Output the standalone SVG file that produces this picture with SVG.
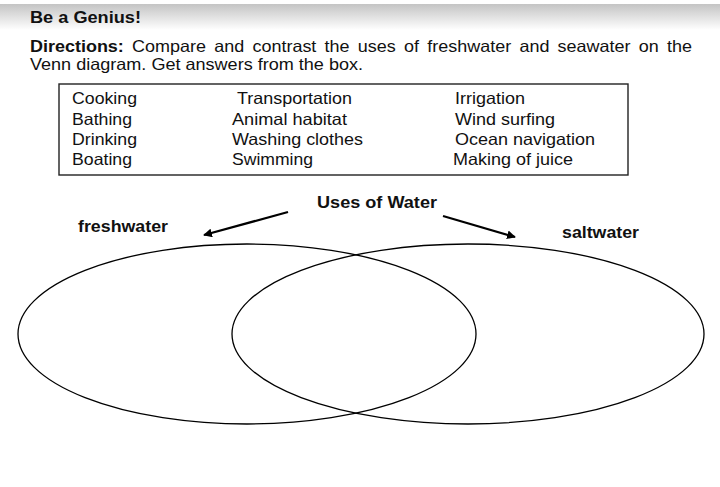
<svg xmlns="http://www.w3.org/2000/svg" width="720" height="487" viewBox="0 0 720 487">
<defs>
<linearGradient id="band" x1="0" y1="0" x2="0" y2="1">
<stop offset="0" stop-color="#c4c4c4"/>
<stop offset="1" stop-color="#ffffff"/>
</linearGradient>
<marker id="ah" viewBox="0 0 10 10" refX="9" refY="5" markerWidth="4" markerHeight="4" orient="auto">
<path d="M0,0 L10,5 L0,10 z" fill="#000"/>
</marker>
<style>
text{font-family:"Liberation Sans",Arial,sans-serif;fill:#111}
.b{font-weight:bold}
.t{font-size:16.5px}
.c{fill:none;stroke:#000;stroke-width:1.3}
</style>
</defs>
<rect width="720" height="487" fill="#fff"/>
<rect x="0" y="4" width="720" height="26" fill="url(#band)"/>
<text x="30" y="23" class="b" font-size="16" textLength="111" lengthAdjust="spacingAndGlyphs">Be a Genius!</text>
<text x="30" y="52" class="t" word-spacing="3" textLength="662" lengthAdjust="spacingAndGlyphs"><tspan class="b">Directions:</tspan> Compare and contrast the uses of freshwater and seawater on the</text>
<text x="30" y="70" class="t" textLength="333" lengthAdjust="spacingAndGlyphs">Venn diagram. Get answers from the box.</text>
<g id="box">
<rect x="59" y="84" width="569" height="91" fill="none" stroke="#222" stroke-width="1.4"/>
<text class="t" x="72" y="104" textLength="65" lengthAdjust="spacingAndGlyphs">Cooking</text>
<text class="t" x="72" y="125" textLength="60" lengthAdjust="spacingAndGlyphs">Bathing</text>
<text class="t" x="72" y="145" textLength="65" lengthAdjust="spacingAndGlyphs">Drinking</text>
<text class="t" x="72" y="165" textLength="60" lengthAdjust="spacingAndGlyphs">Boating</text>
<text class="t" x="237" y="104" textLength="115" lengthAdjust="spacingAndGlyphs">Transportation</text>
<text class="t" x="232" y="125" textLength="115" lengthAdjust="spacingAndGlyphs">Animal habitat</text>
<text class="t" x="232" y="145" textLength="131" lengthAdjust="spacingAndGlyphs">Washing clothes</text>
<text class="t" x="232" y="165" textLength="81" lengthAdjust="spacingAndGlyphs">Swimming</text>
<text class="t" x="455" y="104" textLength="70" lengthAdjust="spacingAndGlyphs">Irrigation</text>
<text class="t" x="455" y="125" textLength="100" lengthAdjust="spacingAndGlyphs">Wind surfing</text>
<text class="t" x="455" y="145" textLength="140" lengthAdjust="spacingAndGlyphs">Ocean navigation</text>
<text class="t" x="453" y="165" textLength="120" lengthAdjust="spacingAndGlyphs">Making of juice</text>
</g>
<g id="title"><text x="317" y="208" class="b" font-size="16.5" textLength="120" lengthAdjust="spacingAndGlyphs">Uses of Water</text></g>
<g id="freshwater">
<text x="78" y="232" class="b" font-size="16.5" textLength="90" lengthAdjust="spacingAndGlyphs">freshwater</text>
<ellipse class="c" cx="247" cy="334" rx="229" ry="90"/>
</g>
<g id="saltwater">
<text x="562" y="238" class="b" font-size="16.5" textLength="77" lengthAdjust="spacingAndGlyphs">saltwater</text>
<ellipse class="c" cx="468" cy="334" rx="236" ry="90"/>
</g>
<g id="connectors" stroke="#000" stroke-width="2.2" marker-end="url(#ah)">
<line x1="288" y1="212" x2="204" y2="235"/>
<line x1="443" y1="216" x2="515" y2="237"/>
</g>
</svg>
